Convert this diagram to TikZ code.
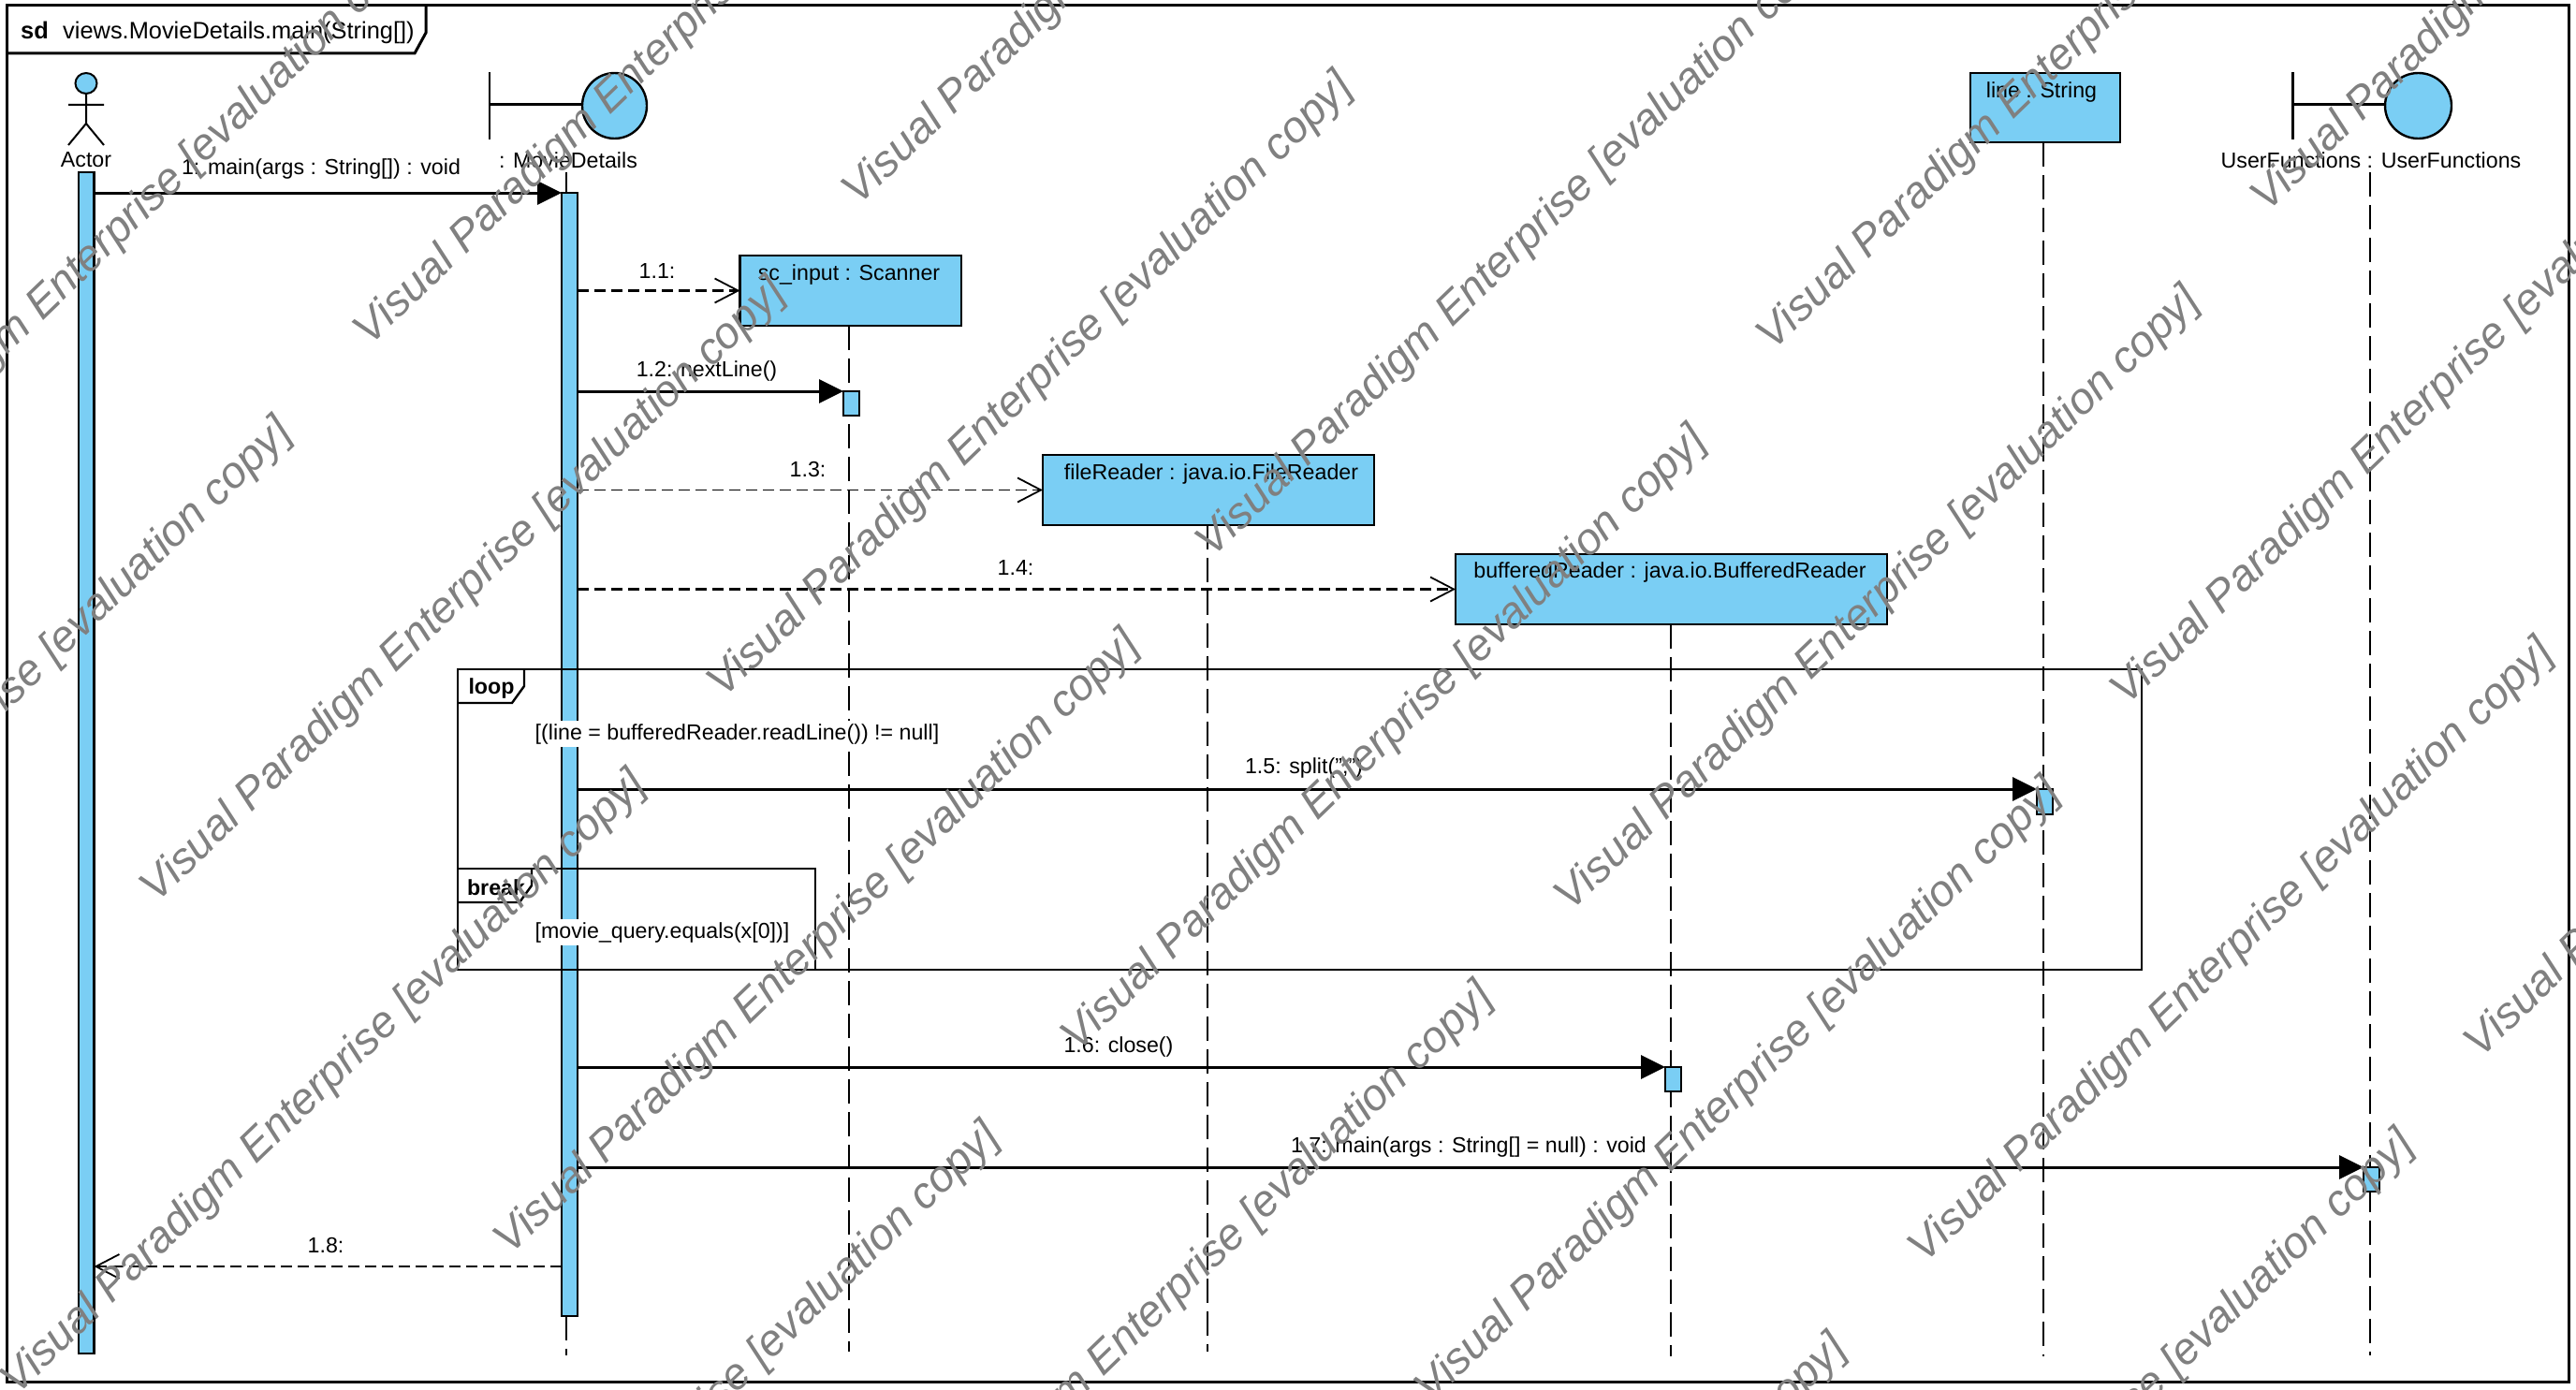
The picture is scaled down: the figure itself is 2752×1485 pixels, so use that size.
\documentclass[tikz,border=0pt]{standalone}
\usepackage{fontspec}
\setmainfont{Liberation Sans}
\usetikzlibrary{arrows.meta,calc}
\definecolor{vpblue}{HTML}{7ACEF4}
\definecolor{wm}{HTML}{808080}
\tikzset{
  x=1pt,y=-1pt,
  frameline/.style={draw=black,line width=3pt},
  fragline/.style={draw=black,line width=2.4pt},
  classbox/.style={draw=black,line width=2.6pt,fill=vpblue,outer sep=0pt},
  lifeline/.style={draw=black,line width=1.8pt,dash pattern=on 26pt off 9pt},
  txt/.style={font=\fontsize{23.2}{23.2}\selectfont,inner sep=0pt,text=black,yshift=-2pt},
  boldtxt/.style={font=\fontsize{23.2}{23.2}\selectfont\bfseries,inner sep=0pt,text=black,yshift=-2pt},
  sdtxt/.style={font=\fontsize{25.4}{25.4}\selectfont,inner sep=0pt,text=black},
  guard/.style={txt,fill=white,inner sep=3pt},
  callmsg/.style={draw=black,line width=3pt,-{Triangle[length=26pt,width=25pt]}},
  retmsg/.style={draw=black,line width=2.6pt,dash pattern=on 12pt off 6pt,-{Straight Barb[length=25pt,width=26pt,line width=1.8pt]}},
  watermark/.style={font=\fontsize{47.1}{47.1}\selectfont\itshape,text=wm,rotate=44,anchor=base west,inner sep=0pt},
}
\newcommand{\boxat}[5]{\node[classbox,anchor=north west,minimum width=#4 pt-#2 pt,minimum height=#5 pt-#3 pt,inner sep=0pt] (#1) at (#2,#3) {};}
\newcommand{\wmk}[2]{\node[watermark] at ({#1*1.7573+18},{#2*1.7573+3}) {Visual Paradigm Enterprise [evaluation copy]};}
\begin{document}
\begin{tikzpicture}
\useasboundingbox (0,0) rectangle (2752,1485);
\clip (0,0) rectangle (2752,1485);
\fill[white] (0,0) rectangle (2752,1485);
% frame
\draw[frameline] (7,6) rectangle (2744,1476);
\draw[frameline] (7,57) -- (443,57) -- (455,35) -- (455,6);
\node[sdtxt,font=\fontsize{25.4}{25.4}\selectfont\bfseries,anchor=base west] (sdlabel) at (22,42) {sd};
\node[sdtxt,anchor=base west] (sdname) at (67,42) {views.MovieDetails.main(String[])};
% lifeline ends
\coordinate (endM) at (605,1448);
\coordinate (endS) at (907,1444);
\coordinate (endF) at (1290,1444);
\coordinate (endB) at (1785,1449);
\coordinate (endL) at (2183,1449);
\coordinate (endU) at (2532,1448);
% actor
\draw[line width=2pt,fill=vpblue] (92,89) ellipse [x radius=11.5,y radius=11];
\draw[line width=2pt] (92,100) -- (92,132) (73,112) -- (111,112) (73,155) -- (92,132) -- (111,155);
\node[txt] (actorlabel) at (92,169) {Actor};
% boundary MovieDetails
\draw[line width=2.2pt] (523,77) -- (523,149);
\draw[line width=3pt] (523,112) -- (622,112);
\draw[line width=2.4pt,fill=vpblue] (656.5,113) ellipse [x radius=34.5,y radius=35];
\node[txt] (mdlabel) at (607,169) {: MovieDetails};
% boundary UserFunctions
\draw[line width=2.2pt] (2449.5,77) -- (2449.5,149);
\draw[line width=3pt] (2449.5,112) -- (2548,112);
\draw[line width=2.4pt,fill=vpblue] (2583.5,113) ellipse [x radius=35.5,y radius=35];
\node[txt] (uflabel) at (2533,169) {UserFunctions : UserFunctions};
% class boxes
\boxat{sc}{790.5}{273}{1027}{348}
\boxat{fr}{1114}{486}{1468}{561}
\boxat{br}{1555}{592}{2016}{667}
\boxat{ls}{2105}{78}{2265}{152}
\node[txt] at (907,292) {sc\_input : Scanner};
\node[txt] at (1294,504) {fileReader : java.io.FileReader};
\node[txt] at (1784,609) {bufferedReader : java.io.BufferedReader};
\node[txt] at (2181,97) {line : String};
% lifelines
\draw[lifeline] (605,184) -- (605,206);
\draw[lifeline] (605,1406) -- (endM);
\draw[lifeline] (907,348) -- (endS);
\draw[lifeline] (1290,561) -- (endF);
\draw[lifeline] (1785,667) -- (endB);
\draw[lifeline] (2183,152) -- (endL);
\draw[lifeline] (2532,184) -- (endU);
% activations
\boxat{aA}{84}{184}{100.5}{1446}
\boxat{aM}{600}{206}{617}{1406}
\boxat{a12}{901}{418}{918}{444}
\boxat{a15}{2176}{843}{2193}{870}
\boxat{a16}{1779}{1140}{1796}{1166}
\boxat{a17}{2525}{1247}{2542}{1273}
% fragments
\draw[fragline] (489,715) rectangle (2288,1036);
\draw[fragline] (489,751) -- (547,751) -- (560,733) -- (560,715);
\node[boldtxt] (loopl) at (525,733) {loop};
\draw[fragline] (489,928) rectangle (871,1036);
\draw[fragline] (489,964) -- (555,964) -- (568,946) -- (568,928);
\node[boldtxt] (breakl) at (530,946) {break};
\node[guard] (g1) at (787.5,782) {[(line = bufferedReader.readLine()) != null]};
\node[guard] (g2) at (707.5,994) {[movie\_query.equals(x[0])]};
% messages
\coordinate (m1a) at (aA.east |- aM.north);
\draw[callmsg] (m1a) -- (aM.north west);
\node[txt] at (343,179) {1: main(args : String[]) : void};
\draw[retmsg] (aM.east |- sc.west) -- (sc.west);
\node[txt] at (702,288) {1.1:};
\draw[callmsg] (aM.east |- a12.north) -- (a12.north west);
\node[txt] at (755,394) {1.2: nextLine()};
\draw[retmsg,line width=1.8pt] (aM.east |- fr.west) -- (fr.west);
\node[txt] at (863,500) {1.3:};
\draw[retmsg] (aM.east |- br.west) -- (br.west);
\node[txt] at (1085,605) {1.4:};
\draw[callmsg] (aM.east |- a15.north) -- (a15.north west);
\node[txt] at (1393,818) {1.5: split(";")};
\draw[callmsg] (aM.east |- a16.north) -- (a16.north west);
\node[txt] at (1195,1116) {1.6: close()};
\draw[callmsg] (aM.east |- a17.north) -- (a17.north west);
\node[txt] at (1569,1223) {1.7: main(args : String[] = null) : void};
\coordinate (m18) at (600,1353);
\draw[retmsg] (m18) -- (aA.east |- m18);
\node[txt] at (348,1328) {1.8:};
% watermarks
\foreach \p/\q in {-130/334,215/209,512/124,853/-2,
  -215/633,85/548,430/423,727/338,1068/212,1368/128,
  0/847,300/762,645/638,945/553,1283/428,
  215/1061,515/976,860/852,1160/767,1498/642,
  730/1190,1075/1066}{\wmk{\p}{\q}}
\end{tikzpicture}
\end{document}
